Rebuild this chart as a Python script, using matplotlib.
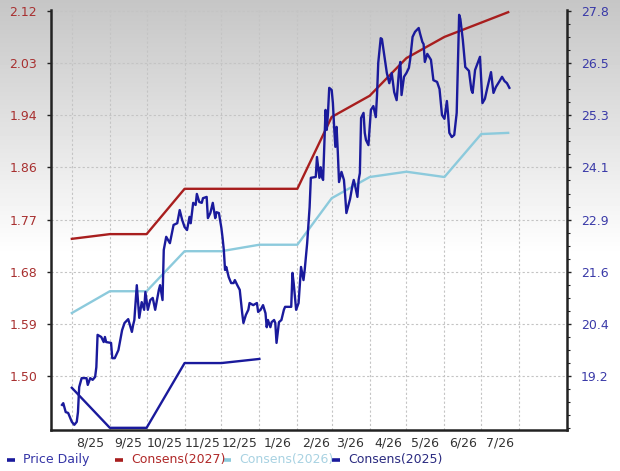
import numpy as np
import matplotlib.pyplot as plt
import matplotlib.dates as mdates
from matplotlib.lines import Line2D
from matplotlib.ticker import AutoMinorLocator

# Price daily: days after 2025-08-01 and price (right axis)
price_base = np.datetime64('2025-08-01')
price_days = [
    -8, -7, -5, -3, 0, 2, 4, 5, 6, 8,
    12, 13, 15, 17, 19, 20, 21, 24, 26, 27,
    28, 32, 33, 35, 38, 41, 43, 46, 49, 50,
    51, 53, 55, 57, 59, 60, 62, 64, 66, 68,
    71, 72, 74, 75, 77, 80, 83, 86, 88, 90,
    92, 94, 96, 97, 99, 101, 102, 104, 106, 107,
    110, 111, 113, 115, 117, 118, 120, 122, 123, 124,
    125, 126, 128, 130, 132, 133, 135, 137, 139, 140,
    142, 144, 145, 148, 151, 152, 154, 156, 158, 159,
    160, 162, 163, 165, 166, 167, 169, 171, 173, 174,
    179, 180, 181, 183, 185, 187, 189, 190, 192, 194,
    195, 199, 200, 202, 203, 204, 205, 207, 208, 209,
    210, 212, 213, 214, 215, 216, 217, 218, 220, 222,
    223, 224, 227, 229, 230, 231, 233, 234, 235, 236,
    238, 239, 240, 242, 244, 246, 248, 249, 250, 252,
    253, 255, 257, 259, 261, 263, 265, 267, 268, 269,
    271, 273, 275, 276, 278, 280, 283, 284, 286, 287,
    288, 290, 293, 295, 298, 300, 302, 304, 306, 307,
    308, 310, 312, 314, 316, 317, 319, 321, 324, 326,
    327, 329, 333, 335, 337, 339, 342, 344, 346, 349,
    351, 353, 355, 357,
]
price_vals = [
    18.52, 18.56, 18.35, 18.33, 18.12, 18.05, 18.12, 18.35, 18.94, 19.15,
    19.15, 18.99, 19.15, 19.11, 19.18, 19.41, 20.17, 20.12, 20.00, 20.12,
    20.00, 19.98, 19.62, 19.62, 19.81, 20.28, 20.45, 20.54, 20.24, 20.40,
    20.52, 21.34, 20.57, 20.94, 20.76, 21.18, 20.76, 20.99, 21.04, 20.76,
    21.23, 21.34, 20.99, 22.17, 22.48, 22.33, 22.76, 22.80, 23.11, 22.88,
    22.71, 22.64, 22.95, 22.80, 23.28, 23.23, 23.49, 23.30, 23.28, 23.39,
    23.42, 22.92, 23.04, 23.28, 22.92, 23.06, 23.04, 22.69, 22.45, 22.17,
    21.70, 21.77, 21.53, 21.39, 21.39, 21.46, 21.34, 21.23, 20.68, 20.45,
    20.64, 20.76, 20.92, 20.87, 20.92, 20.71, 20.76, 20.87, 20.68, 20.35,
    20.52, 20.35, 20.47, 20.52, 20.45, 19.98, 20.47, 20.52, 20.76, 20.83,
    20.83, 21.63, 21.39, 20.76, 20.92, 21.77, 21.46, 21.70, 22.33, 23.18,
    23.87, 23.89, 24.36, 23.87, 24.12, 23.89, 23.82, 25.47, 25.00, 25.40,
    25.99, 25.94, 25.63, 25.07, 24.60, 25.07, 24.48, 23.77, 24.01, 23.82,
    23.46, 23.04, 23.37, 23.70, 23.82, 23.70, 23.42, 23.82, 23.98, 25.28,
    25.40, 24.93, 24.76, 24.64, 25.47, 25.56, 25.30, 25.82, 26.58, 27.16,
    27.14, 26.74, 26.34, 26.10, 26.34, 25.89, 25.70, 26.41, 26.60, 25.82,
    26.25, 26.34, 26.46, 26.65, 27.19, 27.31, 27.40, 27.28, 27.07, 27.02,
    26.60, 26.79, 26.65, 26.17, 26.13, 25.96, 25.35, 25.26, 25.68, 25.35,
    24.93, 24.83, 24.88, 25.40, 27.71, 27.61, 27.12, 26.48, 26.39, 25.94,
    25.87, 26.41, 26.72, 25.63, 25.73, 25.99, 26.36, 25.87, 26.01, 26.15,
    26.25, 26.15, 26.10, 25.99,
]

# Consensus EPS estimates (left axis)
cons27_dates = ['2025-08-01', '2025-09-01', '2025-10-01', '2025-11-01', '2026-02-01',
                '2026-03-01', '2026-04-01', '2026-05-01', '2026-06-01', '2026-07-23']
cons27_vals = [1.733, 1.741, 1.741, 1.818, 1.818, 1.940, 1.976, 2.040, 2.076, 2.118]

cons26_dates = ['2025-08-01', '2025-09-01', '2025-10-01', '2025-11-01', '2025-12-01',
                '2026-01-01', '2026-02-01', '2026-03-01', '2026-04-01', '2026-05-01',
                '2026-06-01', '2026-07-01', '2026-07-23']
cons26_vals = [1.607, 1.644, 1.644, 1.712, 1.712, 1.723, 1.723, 1.802, 1.838, 1.847,
               1.838, 1.911, 1.913]

cons25_dates = ['2025-08-01', '2025-09-01', '2025-10-01', '2025-11-01', '2025-12-01',
                '2026-01-01']
cons25_vals = [1.480, 1.412, 1.412, 1.522, 1.522, 1.529]

left_ticks = ['1.50', '1.59', '1.68', '1.77', '1.86', '1.94', '2.03', '2.12']
right_ticks = ['19.2', '20.4', '21.6', '22.9', '24.1', '25.3', '26.5', '27.8']
month_labels = ['8/25', '9/25', '10/25', '11/25', '12/25', '1/26',
                '2/26', '3/26', '4/26', '5/26', '6/26', '7/26']

c_price = '#1a1a9c'
c_27 = '#a81e1e'
c_26 = '#8ccadc'
c_25 = '#1a1a9c'

fig = plt.figure(figsize=(6.2, 4.71), dpi=100)

# grey-to-white background gradient
bg = fig.add_axes([0, 0, 1, 1], zorder=-10)
shade = np.clip(np.linspace(0, 1, 471) * 471 / 255, 0, 1)
shade = 0.775 + 0.225 * shade
bg.imshow(np.repeat(shade[:, None], 2, axis=1), cmap='gray', vmin=0, vmax=1,
          aspect='auto', extent=[0, 1, 0, 1])
bg.axis('off')

ax = fig.add_axes([51 / 620, 41 / 471, 516 / 620, 420 / 471])
ax.set_facecolor('none')
ax2 = ax.twinx()
ax2.set_facecolor('none')

ax.plot(np.array(cons27_dates, dtype='datetime64[D]'), cons27_vals, color=c_27, lw=1.7)
ax.plot(np.array(cons26_dates, dtype='datetime64[D]'), cons26_vals, color=c_26, lw=1.7)
ax.plot(np.array(cons25_dates, dtype='datetime64[D]'), cons25_vals, color=c_25, lw=1.7)

price_dates = price_base + np.array(price_days, dtype='timedelta64[D]')
ax2.plot(price_dates, price_vals, color=c_price, lw=1.7)

ax.set_xlim(np.datetime64('2025-07-15'), np.datetime64('2026-09-09'))
ax.set_ylim(1.4083, 2.1217)
ax2.set_ylim(17.928, 27.824)

# y ticks
ax.set_yticks(np.linspace(1.50, 2.12, 8), left_ticks)
ax2.set_yticks(np.linspace(19.2, 27.8, 8), right_ticks)
ax2.yaxis.set_minor_locator(AutoMinorLocator(4))

# x: gridlines at month starts, labels mid-month
month_starts = np.arange(np.datetime64('2025-08'), np.datetime64('2026-09'),
                         np.timedelta64(1, 'M')).astype('datetime64[D]')
ax.set_xticks(mdates.date2num(month_starts))
ax.set_xticks(mdates.date2num(month_starts[:-1] + np.timedelta64(15, 'D')),
              month_labels, minor=True)
ax.tick_params(axis='x', which='both', length=0, labelbottom=False)
ax.tick_params(axis='x', which='minor', labelbottom=True, pad=5,
               labelsize=9, labelcolor='#333333')

ax.tick_params(axis='y', direction='out', length=3, width=1, pad=7,
               labelsize=9, labelcolor='#a83030', color='#222222')
ax2.tick_params(axis='y', which='major', direction='out', length=3, width=1, pad=7,
                labelsize=9, labelcolor='#3a3aa8', color='#222222')
ax2.tick_params(axis='y', which='minor', direction='out', length=2, width=0.8,
                color='#222222')

ax.grid(True, which='major', color='#c4c4c4', lw=0.8, ls=(0, (2, 2)))
ax.set_axisbelow(True)

for s in ['top', 'right']:
    ax.spines[s].set_visible(False)
for s in ['top', 'left', 'bottom']:
    ax2.spines[s].set_visible(False)
for sp in [ax.spines['left'], ax.spines['bottom'], ax2.spines['right']]:
    sp.set_linewidth(1.8)
    sp.set_color('#222222')

# legend row at the bottom
legend_items = [
    ('Price Daily', c_price, '#3434a6', 7),
    ('Consens(2027)', c_27, '#b02828', 115),
    ('Consens(2026)', c_26, '#a8d2e2', 223),
    ('Consens(2025)', c_25, '#2a2a80', 332),
]
ly = 1 - 460 / 471
for label, lc, tc, x0 in legend_items:
    fig.add_artist(Line2D([x0 / 620, (x0 + 8) / 620], [ly, ly], color=lc, lw=2.6,
                          solid_capstyle='butt', transform=fig.transFigure))
    fig.text((x0 + 16) / 620, ly, label, color=tc, fontsize=9, va='center', ha='left')

fig.savefig('out.png', dpi=100)
